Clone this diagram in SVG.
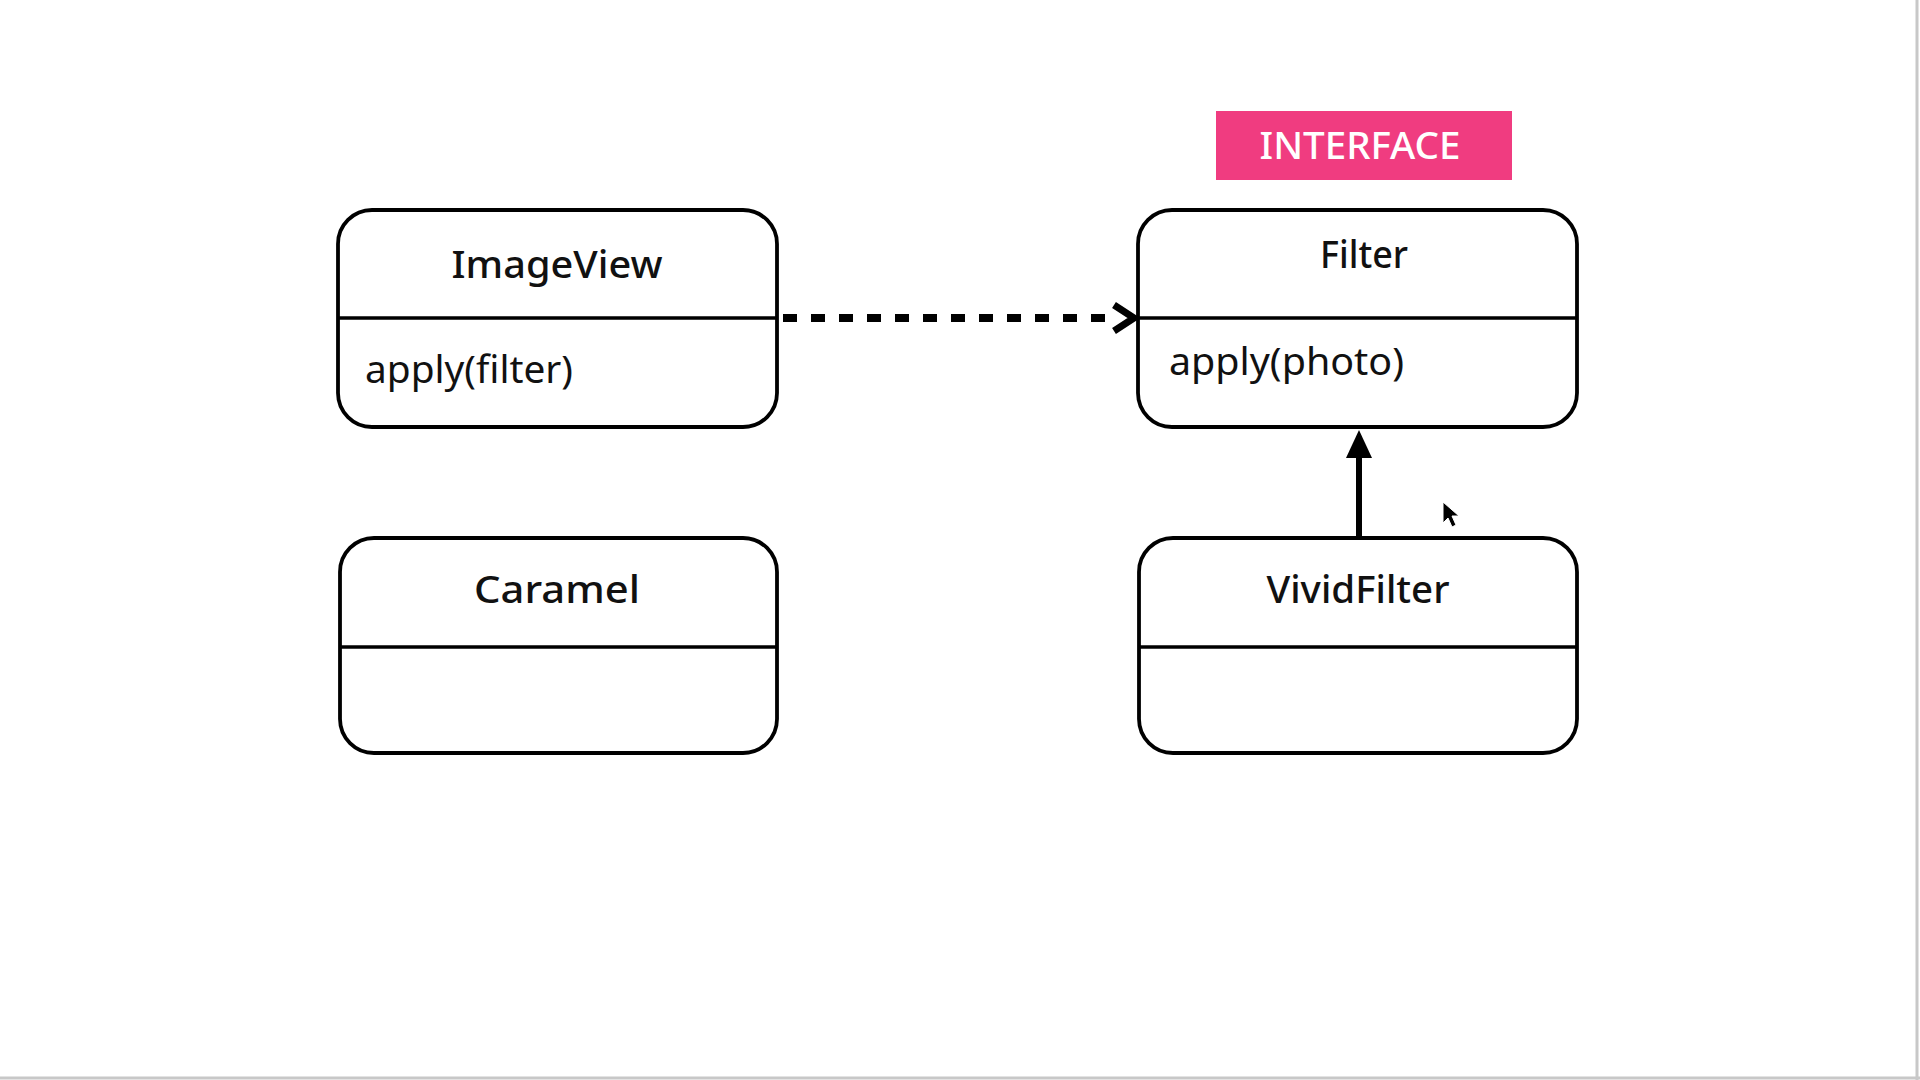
<svg xmlns="http://www.w3.org/2000/svg" width="1920" height="1080" viewBox="0 0 1920 1080">
  <style>
    .box { fill: #ffffff; stroke: #000000; stroke-width: 3.8; }
    .div { stroke: #000000; stroke-width: 3.5; }
    .title { font-family: "Noto Sans", "Liberation Sans", sans-serif; font-size: 38px; font-weight: 500; fill: #111111; text-anchor: middle; }
    .member { font-family: "Noto Sans", "Liberation Sans", sans-serif; font-size: 38px; font-weight: 400; fill: #111111; }
  </style>
  <rect x="0" y="0" width="1920" height="1080" fill="#ffffff"/>
  <line x1="1917" y1="0" x2="1917" y2="1080" stroke="#c8c8c8" stroke-width="3"/>
  <line x1="0" y1="1078" x2="1920" y2="1078" stroke="#c8c8c8" stroke-width="3"/>

  <g id="interface-label">
    <rect x="1216" y="111" width="296" height="69" fill="#f03c80"/>
    <text x="1360" y="159" font-family="Noto Sans, Liberation Sans, sans-serif" font-size="38" font-weight="500" fill="#ffffff" text-anchor="middle" textLength="201" lengthAdjust="spacingAndGlyphs">INTERFACE</text>
  </g>

  <g id="node-imageview">
    <rect class="box" x="338" y="210" width="439" height="217" rx="34"/>
    <line class="div" x1="338" y1="318" x2="777" y2="318"/>
    <text class="title" x="557" y="278" textLength="211" lengthAdjust="spacingAndGlyphs">ImageView</text>
    <text class="member" x="365" y="383" textLength="208" lengthAdjust="spacingAndGlyphs">apply(filter)</text>
  </g>

  <g id="node-filter">
    <rect class="box" x="1138" y="210" width="439" height="217" rx="34"/>
    <line class="div" x1="1138" y1="318" x2="1577" y2="318"/>
    <text class="title" x="1364" y="268" font-weight="600" textLength="88" lengthAdjust="spacingAndGlyphs">Filter</text>
    <text class="member" x="1169" y="375" textLength="235" lengthAdjust="spacingAndGlyphs">apply(photo)</text>
  </g>

  <g id="node-caramel">
    <rect class="box" x="340" y="538" width="437" height="215" rx="34"/>
    <line class="div" x1="340" y1="647" x2="777" y2="647"/>
    <text class="title" x="557" y="603" textLength="166" lengthAdjust="spacingAndGlyphs">Caramel</text>
  </g>

  <g id="node-vividfilter">
    <rect class="box" x="1139" y="538" width="438" height="215" rx="34"/>
    <line class="div" x1="1139" y1="647" x2="1577" y2="647"/>
    <text class="title" x="1358" y="603" textLength="183" lengthAdjust="spacingAndGlyphs">VividFilter</text>
  </g>

  <g id="connectors">
    <line x1="783" y1="318" x2="1105" y2="318" stroke="#000000" stroke-width="8" stroke-dasharray="14 14"/>
    <polyline points="1114,305 1134,318 1114,331" fill="none" stroke="#000000" stroke-width="7" stroke-linejoin="miter"/>
    <line x1="1359" y1="538" x2="1359" y2="455" stroke="#000000" stroke-width="6"/>
    <polygon points="1359,430 1372,458 1346,458" fill="#000000"/>
  </g>

  <polygon points="1443,502 1443,523 1448,518 1452,527 1456,525 1452,516 1459,516" fill="#000000" stroke="#ffffff" stroke-width="1"/>
</svg>
